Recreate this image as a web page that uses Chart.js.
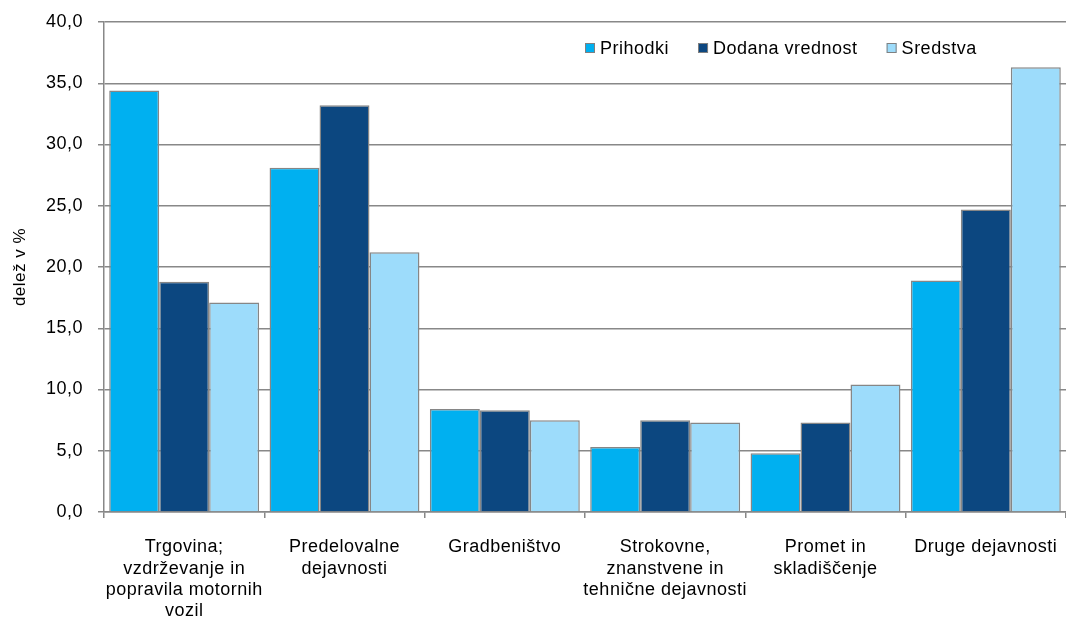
<!DOCTYPE html>
<html>
<head>
<meta charset="utf-8">
<script src="https://cdn.jsdelivr.net/npm/chart.js@4.4.0/dist/chart.umd.min.js"></script>
<style>
  html, body { margin: 0; padding: 0; background: #fff; }
  #wrap { width: 1066px; height: 618px; }
</style>
</head>
<body>
<div id="wrap"><canvas id="chart" width="1066" height="618"></canvas></div>
<script>
// data
const categories = [
  ['Trgovina;', 'vzdrževanje in', 'popravila motornih', 'vozil'],
  ['Predelovalne', 'dejavnosti'],
  ['Gradbeništvo'],
  ['Strokovne,', 'znanstvene in', 'tehnične dejavnosti'],
  ['Promet in', 'skladiščenje'],
  ['Druge dejavnosti']
];
const seriesNames = ['Prihodki', 'Dodana vrednost', 'Sredstva'];
const prihodki = [34.4, 28.1, 8.4, 5.3, 4.8, 18.9];
const dodanaVrednost = [18.8, 33.2, 8.3, 7.5, 7.3, 24.7];
const sredstva = [17.1, 21.2, 7.5, 7.3, 10.4, 36.3];
const yTicks = [0, 5, 10, 15, 20, 25, 30, 35, 40];

const colors = ['#00B0F0', '#0C4780', '#9DDCFB'];
const font = "'Liberation Sans', Arial, sans-serif";

// Excel-like wide letter spacing
const spacing = {
  id: 'spacing',
  beforeInit(chart) { chart.ctx.letterSpacing = '0.5px'; },
  beforeUpdate(chart) { chart.ctx.letterSpacing = '0.5px'; }
};

// legend drawn inside the plot, top right (like Excel)
const insideLegend = {
  id: 'insideLegend',
  afterDraw(chart) {
    const ctx = chart.ctx;
    const area = chart.chartArea;
    ctx.save();
    ctx.font = '18px ' + font;
    ctx.textBaseline = 'middle';
    const y = area.top + 26;
    let x = area.left + 481;
    chart.data.datasets.forEach(ds => {
      ctx.fillStyle = ds.backgroundColor;
      ctx.fillRect(x, y - 5, 10, 10);
      ctx.strokeStyle = '#808080';
      ctx.lineWidth = 1;
      ctx.strokeRect(x + 0.5, y - 4.5, 9, 9);
      ctx.fillStyle = '#000';
      ctx.fillText(ds.label, x + 15, y + 1);
      x += 15 + ctx.measureText(ds.label).width + 29;
    });
    ctx.restore();
  }
};

const ctx = document.getElementById('chart');
new Chart(ctx, {
  type: 'bar',
  data: {
    labels: categories,
    datasets: [
      { label: seriesNames[0], data: prihodki, backgroundColor: colors[0] },
      { label: seriesNames[1], data: dodanaVrednost, backgroundColor: colors[1] },
      { label: seriesNames[2], data: sredstva, backgroundColor: colors[2] }
    ].map(d => Object.assign(d, { borderColor: '#868686', borderWidth: 1.5, borderSkipped: 'bottom' }))
  },
  options: {
    responsive: false,
    animation: false,
    devicePixelRatio: 1,
    layout: { padding: { top: 22, right: 0, left: 0, bottom: 0 } },
    categoryPercentage: 0.935,
    barPercentage: 1.0,
    plugins: { legend: { display: false }, tooltip: { enabled: false } },
    scales: {
      x: {
        grid: { display: true, drawOnChartArea: false, offset: true, color: '#888', lineWidth: 1.5, tickLength: 6 },
        border: { color: '#888', width: 1.5 },
        ticks: { color: '#000', font: { family: font, size: 18, lineHeight: 1.17 }, padding: 19, maxRotation: 0, autoSkip: false },
        afterFit: s => { s.height = 106; s.paddingLeft = 0; s.paddingRight = 0; }
      },
      y: {
        min: 0,
        max: 40,
        afterBuildTicks: s => { s.ticks = yTicks.map(v => ({ value: v })); },
        grid: { color: '#888', lineWidth: 1.5, tickLength: 6 },
        border: { color: '#888', width: 1.5 },
        ticks: {
          color: '#000',
          font: { family: font, size: 18 },
          padding: 15,
          callback: v => v.toFixed(1).replace('.', ',')
        },
        title: { display: true, text: 'delež v %', color: '#000', font: { family: font, size: 17 }, padding: { top: 10, bottom: 0 } },
        afterFit: s => { s.width = 104; s.paddingTop = 0; s.paddingBottom = 0; }
      }
    }
  },
  plugins: [spacing, insideLegend]
});
</script>
</body>
</html>
